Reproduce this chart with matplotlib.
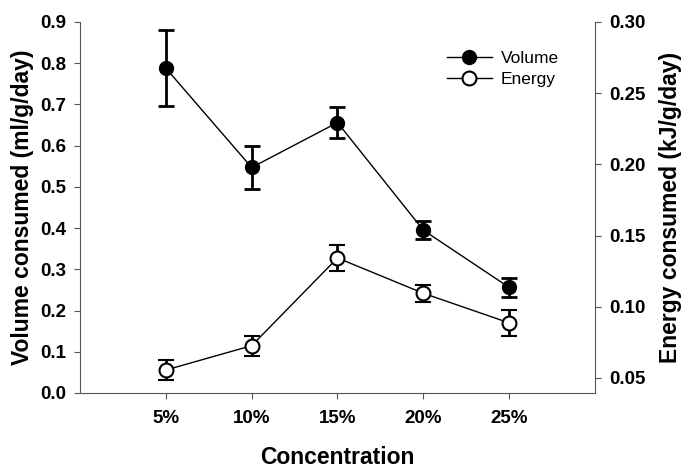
import numpy as np
import matplotlib
matplotlib.use("Agg")
from matplotlib import pyplot as plt
from matplotlib.lines import Line2D

plt.rcParams['font.family'] = ['Liberation Sans', 'DejaVu Sans']

conc = [5, 10, 15, 20, 25]
conc_labels = ['5%', '10%', '15%', '20%', '25%']

volume = [0.788, 0.547, 0.656, 0.395, 0.256]
volume_err = [0.092, 0.051, 0.038, 0.022, 0.023]

energy = [0.0556, 0.0727, 0.1343, 0.1095, 0.0887]
energy_err = [0.0072, 0.0071, 0.0090, 0.0060, 0.0090]

fig = plt.figure(figsize=(6.93, 4.74), dpi=100)
ax = fig.add_axes([0.1154, 0.171, 0.7432, 0.7826])
ax2 = ax.twinx()

axcol = '#555555'

ax.errorbar(conc, volume, yerr=volume_err, fmt='o-', color='black',
            markersize=10, linewidth=1, elinewidth=2, capsize=6, capthick=2,
            markerfacecolor='black', markeredgecolor='black')
ax2.errorbar(conc, energy, yerr=energy_err, fmt='o-', color='black',
             markersize=10, linewidth=1, elinewidth=2, capsize=6, capthick=2,
             markerfacecolor='white', markeredgecolor='black',
             markeredgewidth=1.5)

ax.set_xlim(0, 30)
ax.set_ylim(0, 0.9)
ax2.set_ylim(0.0395, 0.30)
ax.set_xticks(conc)
ax.set_xticklabels(conc_labels)
ax.set_yticks(np.arange(0, 0.91, 0.1))
ax.set_yticklabels(['%.1f' % v for v in np.arange(0, 0.91, 0.1)])
ax2.set_yticks([0.05, 0.10, 0.15, 0.20, 0.25, 0.30])
ax2.set_yticklabels(['0.05', '0.10', '0.15', '0.20', '0.25', '0.30'])

for a in (ax, ax2):
    a.spines['top'].set_visible(False)
    for s in ('left', 'right', 'bottom'):
        a.spines[s].set_color(axcol)
    a.tick_params(direction='out', length=4, color=axcol, labelsize=13.5, pad=6)
    for t in a.get_xticklabels() + a.get_yticklabels():
        t.set_fontweight('bold')
ax.tick_params(axis='x', pad=8)
ax.spines['right'].set_visible(False)
ax2.spines['left'].set_visible(False)
ax2.spines['bottom'].set_visible(False)

ax.set_xlabel('Concentration', fontsize=16.5, fontweight='bold', labelpad=14)
ax.set_ylabel('Volume consumed (ml/g/day)', fontsize=16.5, fontweight='bold', labelpad=4)
ax2.set_ylabel('Energy consumed (kJ/g/day)', fontsize=16.5, fontweight='bold', labelpad=10)

h1 = Line2D([], [], color='black', marker='o', markersize=10, linewidth=1,
            markerfacecolor='black')
h2 = Line2D([], [], color='black', marker='o', markersize=10, linewidth=1,
            markerfacecolor='white', markeredgewidth=1.5)
ax.legend([h1, h2], ['Volume', 'Energy'], loc='upper right',
          bbox_to_anchor=(0.96, 0.965), frameon=False, fontsize=12.5,
          handlelength=2.6, handletextpad=0.5, labelspacing=0.35)

fig.savefig('out.png', dpi=100)
